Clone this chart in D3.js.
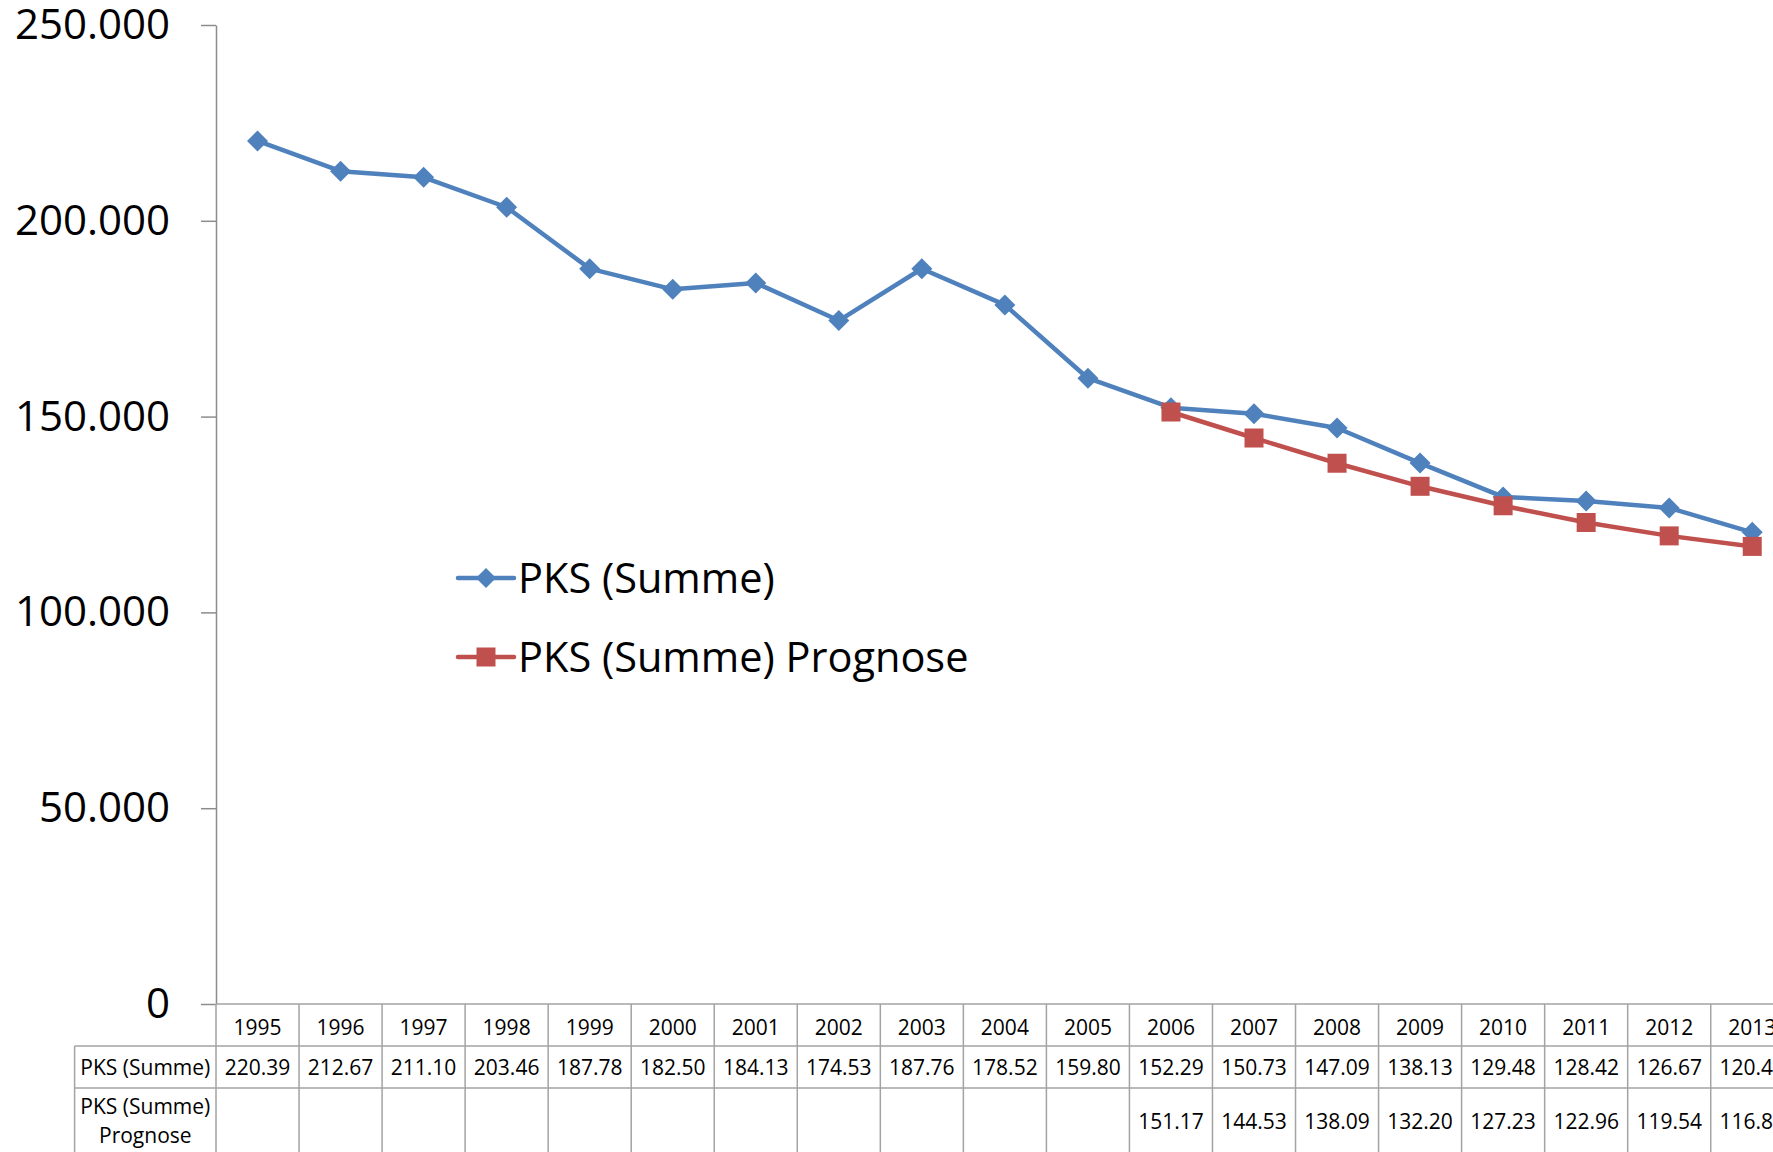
<!DOCTYPE html>
<html>
<head>
<meta charset="utf-8">
<script src="https://cdn.jsdelivr.net/npm/d3@7"></script>
<style>
  body { margin: 0; background: #fff; overflow: hidden; }
  svg { display: block; font-family: "Open Sans", sans-serif; }
</style>
</head>
<body>
<script>
// data (values in thousands, as in the data table)
const years = ["1995", "1996", "1997", "1998", "1999", "2000", "2001", "2002", "2003", "2004",
    "2005", "2006", "2007", "2008", "2009", "2010", "2011", "2012", "2013"];
const pksSumme = [220.39, 212.67, 211.10, 203.46, 187.78, 182.50, 184.13, 174.53, 187.76, 178.52,
    159.80, 152.29, 150.73, 147.09, 138.13, 129.48, 128.42, 126.67, 120.45];
const pksPrognose = [null, null, null, null, null, null, null, null, null, null,
    null, 151.17, 144.53, 138.09, 132.20, 127.23, 122.96, 119.54, 116.85];
const yTicks = [0, 50, 100, 150, 200, 250];
const seriesNames = ["PKS (Summe)", "PKS (Summe) Prognose"];

const width = 1773, height = 1152;
const axisX = 216, plotTop = 25, plotBottom = 1004;
const rowLines = [1004, 1046, 1088, 1160];
const labelLeft = 74.6;

const blue = "#4F81BD", red = "#C0504D", grid = "#a3a3a3";

const de = d3.formatLocale({ decimal: ",", thousands: ".", grouping: [3], currency: ["", " €"] });
const fmtAxis = de.format(",");

const svg = d3.select("body").append("svg")
    .attr("width", width)
    .attr("height", height);

const x = d3.scaleBand()
    .domain(years)
    .range([axisX, axisX + 19 * 83.04]);

const y = d3.scaleLinear()
    .domain([0, 250])
    .range([plotBottom, plotTop]);

// y axis
const yAxis = svg.append("g")
    .attr("transform", "translate(" + axisX + ",0)")
    .call(d3.axisLeft(y)
        .tickValues(yTicks)
        .tickSize(15)
        .tickSizeOuter(0)
        .tickPadding(31)
        .tickFormat(d => fmtAxis(d * 1000)));
yAxis.select(".domain").attr("stroke", "#8c8c8c").attr("stroke-width", 1.5);
yAxis.selectAll(".tick line").attr("stroke", "#8c8c8c").attr("stroke-width", 1.5);
yAxis.selectAll(".tick text")
    .attr("font-size", 42)
    .attr("font-family", "'Open Sans', sans-serif")
    .attr("fill", "#000");

// data table
const table = svg.append("g").attr("class", "table");

// horizontal lines
table.append("line")
    .attr("x1", axisX).attr("x2", width)
    .attr("y1", rowLines[0]).attr("y2", rowLines[0])
    .attr("stroke", grid).attr("stroke-width", 1.5);
rowLines.slice(1, 3).forEach(ry => {
    table.append("line")
        .attr("x1", labelLeft).attr("x2", width)
        .attr("y1", ry).attr("y2", ry)
        .attr("stroke", grid).attr("stroke-width", 1.5);
});

// vertical lines
table.append("line")
    .attr("x1", labelLeft).attr("x2", labelLeft)
    .attr("y1", rowLines[1]).attr("y2", rowLines[3])
    .attr("stroke", grid).attr("stroke-width", 1.5);
table.selectAll(".vline")
    .data(years)
    .enter().append("line")
    .attr("class", "vline")
    .attr("x1", d => x(d)).attr("x2", d => x(d))
    .attr("y1", rowLines[0]).attr("y2", rowLines[3])
    .attr("stroke", grid).attr("stroke-width", 1.5);

const cellFont = 21;
const labelCx = (labelLeft + axisX) / 2;
const fmtCell = d3.format(".2f");

table.selectAll(".year")
    .data(years)
    .enter().append("text")
    .attr("x", d => x(d) + x.bandwidth() / 2)
    .attr("y", 1027)
    .attr("dy", "0.36em")
    .attr("text-anchor", "middle")
    .attr("font-size", cellFont)
    .text(d => d);

table.selectAll(".v1")
    .data(pksSumme)
    .enter().append("text")
    .attr("x", (d, i) => x(years[i]) + x.bandwidth() / 2)
    .attr("y", 1067)
    .attr("dy", "0.36em")
    .attr("text-anchor", "middle")
    .attr("font-size", cellFont)
    .text(d => fmtCell(d));

table.selectAll(".v2")
    .data(pksPrognose)
    .enter().append("text")
    .attr("x", (d, i) => x(years[i]) + x.bandwidth() / 2)
    .attr("y", 1121)
    .attr("dy", "0.36em")
    .attr("text-anchor", "middle")
    .attr("font-size", cellFont)
    .text(d => d === null ? "" : fmtCell(d));

table.append("text")
    .attr("x", labelCx).attr("y", 1067).attr("dy", "0.36em")
    .attr("text-anchor", "middle").attr("font-size", cellFont)
    .text(seriesNames[0]);
table.append("text")
    .attr("x", labelCx).attr("y", 1106).attr("dy", "0.36em")
    .attr("text-anchor", "middle").attr("font-size", cellFont)
    .text("PKS (Summe)");
table.append("text")
    .attr("x", labelCx).attr("y", 1135).attr("dy", "0.36em")
    .attr("text-anchor", "middle").attr("font-size", cellFont)
    .text("Prognose");

// lines
const cx = d => x(d.year) + x.bandwidth() / 2;
const line = d3.line()
    .defined(d => d.value !== null)
    .x(cx)
    .y(d => y(d.value));

const s1 = years.map((yr, i) => ({ year: yr, value: pksSumme[i] }));
const s2 = years.map((yr, i) => ({ year: yr, value: pksPrognose[i] }));

function diamond(r) {
    return "M0," + (-r) + "L" + r + ",0L0," + r + "L" + (-r) + ",0Z";
}

svg.append("path")
    .datum(s1)
    .attr("fill", "none")
    .attr("stroke", blue)
    .attr("stroke-width", 4.5)
    .attr("stroke-linejoin", "round")
    .attr("d", line);

svg.selectAll(".m1")
    .data(s1)
    .enter().append("path")
    .attr("transform", d => "translate(" + cx(d) + "," + y(d.value) + ")")
    .attr("d", diamond(10.5))
    .attr("fill", blue);

svg.append("path")
    .datum(s2)
    .attr("fill", "none")
    .attr("stroke", red)
    .attr("stroke-width", 4.5)
    .attr("stroke-linejoin", "round")
    .attr("d", line);

svg.selectAll(".m2")
    .data(s2.filter(d => d.value !== null))
    .enter().append("rect")
    .attr("x", d => cx(d) - 9.5)
    .attr("y", d => y(d.value) - 9.5)
    .attr("width", 19)
    .attr("height", 19)
    .attr("fill", red);

// legend
const legend = svg.append("g");
const legendY = [578, 657];
[blue, red].forEach((c, i) => {
    const g = legend.append("g").attr("transform", "translate(0," + legendY[i] + ")");
    g.append("line")
        .attr("x1", 458).attr("x2", 514)
        .attr("stroke", c).attr("stroke-width", 4.5)
        .attr("stroke-linecap", "round");
    if (i === 0) {
        g.append("path").attr("transform", "translate(486,0)").attr("d", diamond(10)).attr("fill", c);
    } else {
        g.append("rect").attr("x", 476.5).attr("y", -9.5).attr("width", 19).attr("height", 19).attr("fill", c);
    }
    g.append("text")
        .attr("x", 518)
        .attr("dy", "0.36em")
        .attr("font-size", 41.5)
        .text(seriesNames[i]);
});
</script>
</body>
</html>
